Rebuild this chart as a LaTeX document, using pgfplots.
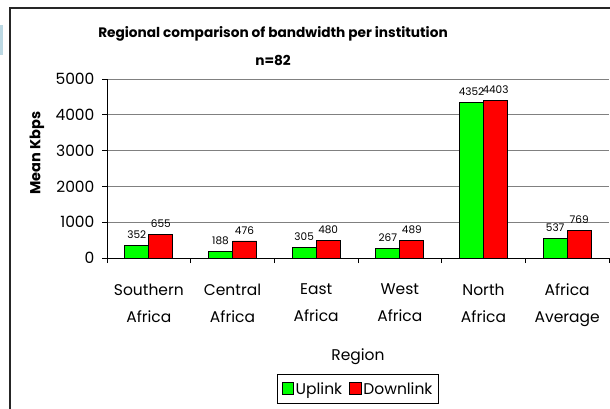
\documentclass[border=0pt]{standalone}
\usepackage{pgfplots}
\pgfplotsset{compat=1.18}
\usepackage{fontspec}
\setmainfont{Poppins}
\definecolor{upg}{HTML}{00FF00}
\definecolor{dnr}{HTML}{FF0000}
\definecolor{gridg}{HTML}{808080}
\begin{document}
\begin{tikzpicture}[x=1pt,y=1pt]
\useasboundingbox (0pt,0pt) rectangle (610pt,408pt);
\fill[white] (0pt,0pt) rectangle (610pt,408pt);
\fill[cyan!25!teal!30] (0pt,353pt) rectangle (2.5pt,383pt);
\draw[line width=1.3pt, black!85] (10pt,-10pt) -- (10pt,400pt) -- (620pt,400pt);
\node[font=\bfseries\fontsize{13.7}{28}\selectfont, align=center] at (273pt,362pt) {Regional comparison of bandwidth per institution\\n=82};
\node[rotate=90, font=\bfseries\fontsize{14.5}{16}\selectfont] at (37pt,255pt) {Mean Kbps};
\node[font=\fontsize{15.5}{18}\selectfont] at (358pt,51pt) {Region};
\begin{axis}[
  at={(107pt,150pt)}, anchor=south west,
  scale only axis, width=502pt, height=179pt,
  xmin=-0.5, xmax=5.5, ymin=0, ymax=5000,
  axis x line*=bottom, axis y line*=left,
  axis line style={black, line width=0.9pt, -},
  ymajorgrids, grid style={gridg, line width=0.9pt},
  ytick={0,1000,...,5000},
  xtick={0,1,2,3,4,5},
  xticklabels={Southern\\Africa, Central\\Africa, East\\Africa, West\\Africa, North\\Africa, Africa\\Average},
  major x tick style={draw=none},
  minor xtick={-0.5,0.5,1.5,2.5,3.5,4.5,5.5},
  minor x tick style={black, line width=0.9pt},
  y tick style={black, line width=0.9pt},
  tick align=outside, major tick length=5pt, minor tick length=5pt,
  /pgf/number format/assume math mode=true,
  /pgf/number format/set thousands separator={},
  yticklabel style={font=\fontsize{15.5}{18}\selectfont, xshift=-4pt},
  xticklabel style={font=\fontsize{15.5}{27}\selectfont, align=center, yshift=-17pt},
  ybar=0pt, bar width=24pt,
  nodes near coords,
  every node near coord/.append style={font=\fontsize{10.5}{12}\selectfont, yshift=3pt},
  legend columns=2,
  legend style={at={(0.5,-0.648)}, anchor=north, draw=black, line width=0.7pt,
    font=\fontsize{15.5}{18}\selectfont, inner xsep=4pt, inner ysep=6pt,
    /tikz/every even column/.append style={column sep=5pt}},
  legend image code/.code={\draw[#1, draw=black, line width=0.7pt] (0pt,-5pt) rectangle (11.5pt,6.5pt);},
]
\addplot[fill=upg, draw=black, line width=0.8pt] coordinates {(0,352) (1,188) (2,305) (3,267) (4,4352) (5,537)};
\addplot[fill=dnr, draw=black, line width=0.8pt] coordinates {(0,655) (1,476) (2,480) (3,489) (4,4403) (5,769)};
\legend{Uplink, Downlink}
\end{axis}
\end{tikzpicture}
\end{document}
